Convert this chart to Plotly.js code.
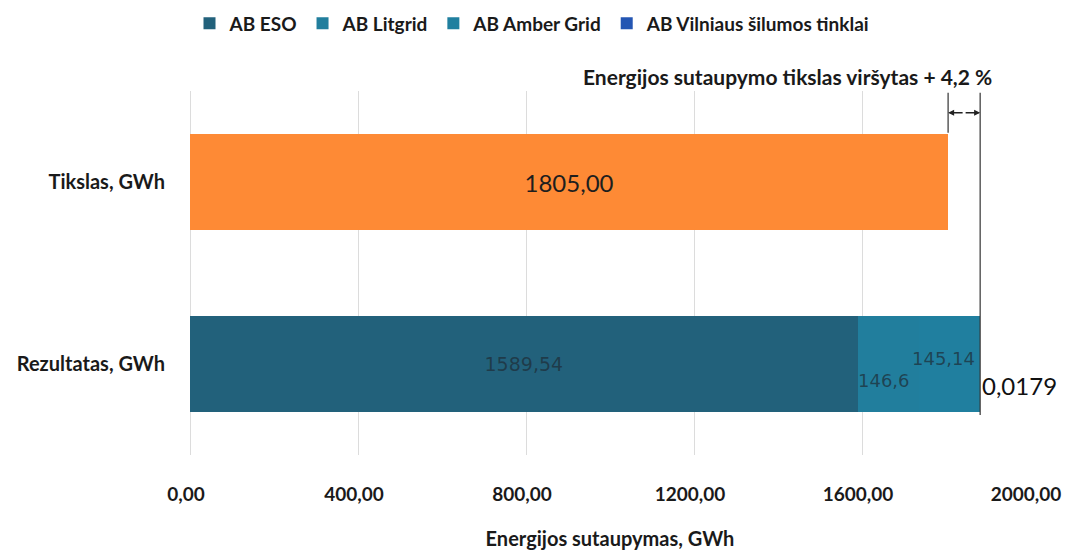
<!DOCTYPE html>
<html><head><meta charset="utf-8">
<script src="https://cdn.plot.ly/plotly-3.0.1.min.js"></script>
<style>body{margin:0;background:#fff}#c{width:1065px;height:550px}</style>
</head><body><div id="c"></div>
<script>
const categories = ['Rezultatas, GWh', 'Tikslas, GWh'];
const targetValue = [1805.00];
const seriesNames = ['AB ESO', 'AB Litgrid', 'AB Amber Grid', 'AB Vilniaus šilumos tinklai'];
const seriesValues = [1589.54, 146.6, 145.14, 0.0179];
const seriesLabels = ['1589,54', '146,6', '145,14', '0,0179'];
const seriesColors = ['#22617b', '#217e9d', '#207f9f', '#2456b3'];
const tickValues = [0, 400, 800, 1200, 1600, 2000];
const xTitle = 'Energijos sutaupymas, GWh';
const noteText = 'Energijos sutaupymo tikslas viršytas + 4,2 %';

const F = 'Lato, "Open Sans", sans-serif';
const D = '"DejaVu Sans", sans-serif';
const total = seriesValues.reduce((a, b) => a + b, 0);
const dimText = 'rgba(30,45,55,0.72)';

const traces = [{
  type: 'bar', orientation: 'h', y: [categories[1]], x: targetValue,
  marker: {color: '#fe8a35'}, showlegend: false, name: 'Tikslas',
  texttemplate: '%{x:.2f}', textposition: 'inside', insidetextanchor: 'middle',
  textfont: {family: F, size: 24, color: '#1e1e1e'}, hoverinfo: 'x'
}];
seriesNames.forEach((n, i) => {
  traces.push({
    type: 'bar', orientation: 'h', y: [categories[0]], x: [seriesValues[i]],
    name: n, marker: {color: seriesColors[i]},
    text: i === 0 ? [seriesLabels[0]] : [''], textposition: i === 0 ? 'inside' : 'none',
    insidetextanchor: 'middle',
    textfont: {family: D, size: 19, color: dimText}
  });
});

const cum1 = seriesValues[0] + seriesValues[1] / 2;
const cum2 = seriesValues[0] + seriesValues[1] + seriesValues[2] / 2;
const annotations = [
  {x: cum1, y: categories[0], xref: 'x', yref: 'y', text: seriesLabels[1], showarrow: false,
   yshift: -16, xshift: -4, font: {family: D, size: 18, color: dimText}},
  {x: cum2, y: categories[0], xref: 'x', yref: 'y', text: seriesLabels[2], showarrow: false,
   yshift: 6, xshift: -6, font: {family: D, size: 18, color: dimText}},
  {x: total, y: categories[0], xref: 'x', yref: 'y', text: seriesLabels[3], showarrow: false,
   xanchor: 'left', xshift: 0, yshift: -21, font: {family: F, size: 24, color: '#111'}},
  {x: total, y: 1.04, xref: 'x', yref: 'paper', yanchor: 'middle', text: noteText, showarrow: false,
   xanchor: 'right', xshift: 14, font: {family: F, size: 21, color: '#1a1a1a', weight: 'bold'}},
  {x: targetValue[0], y: 0.94, xref: 'x', yref: 'paper', ax: (targetValue[0] + total) / 2, axref: 'x',
   ay: 0, ayref: 'pixel', text: '', showarrow: true, arrowhead: 2, arrowsize: 0.8, arrowwidth: 1.5, arrowcolor: '#222'},
  {x: total, y: 0.94, xref: 'x', yref: 'paper', ax: (targetValue[0] + total) / 2, axref: 'x',
   ay: 0, ayref: 'pixel', text: '', showarrow: true, arrowhead: 2, arrowsize: 0.8, arrowwidth: 1.5, arrowcolor: '#222'}
];
const shapes = [
  {type: 'line', xref: 'x', yref: 'paper', x0: total, x1: total, y0: 0.11, y1: 0.995, line: {color: '#333', width: 1.2}},
  {type: 'line', xref: 'x', yref: 'paper', x0: targetValue[0], x1: targetValue[0], y0: 0.885, y1: 0.995, line: {color: '#333', width: 1.2}}
];

const layout = {
  width: 1065, height: 550, paper_bgcolor: '#fff', plot_bgcolor: '#fff',
  margin: {l: 190, r: 35, t: 91, b: 95, autoexpand: false},
  barmode: 'stack', bargap: 0.47, separators: ', ',
  font: {family: F, color: '#1a1a1a'},
  showlegend: true,
  legend: {orientation: 'h', xref: 'container', yref: 'container', x: 0.5, xanchor: 'center', y: 0.992, yanchor: 'top',
    font: {family: F, size: 19, color: '#1a1a1a', weight: 'bold'}, itemwidth: 30, traceorder: 'normal'},
  xaxis: {range: [0, 2000], tickvals: tickValues, tickformat: '.2f', showgrid: true, gridcolor: '#dcdcdc',
    zeroline: true, zerolinecolor: '#dcdcdc', showline: false, ticks: 'outside', ticklen: 22, tickcolor: 'rgba(0,0,0,0)',
    ticklabeloverflow: 'allow', ticklabelshift: -4,
    tickfont: {family: F, size: 19, color: '#1a1a1a', weight: 'bold'},
    title: {text: xTitle, standoff: 28, font: {family: F, size: 20, color: '#1a1a1a', weight: 'bold'}}},
  yaxis: {type: 'category', categoryorder: 'array', categoryarray: categories, showgrid: false,
    showline: false, ticks: 'outside', ticklen: 20, tickcolor: 'rgba(0,0,0,0)',
    tickfont: {family: F, size: 20, color: '#1a1a1a', weight: 'bold'}},
  annotations, shapes
};
Plotly.newPlot('c', traces, layout, {displayModeBar: false, staticPlot: true});
</script></body></html>
